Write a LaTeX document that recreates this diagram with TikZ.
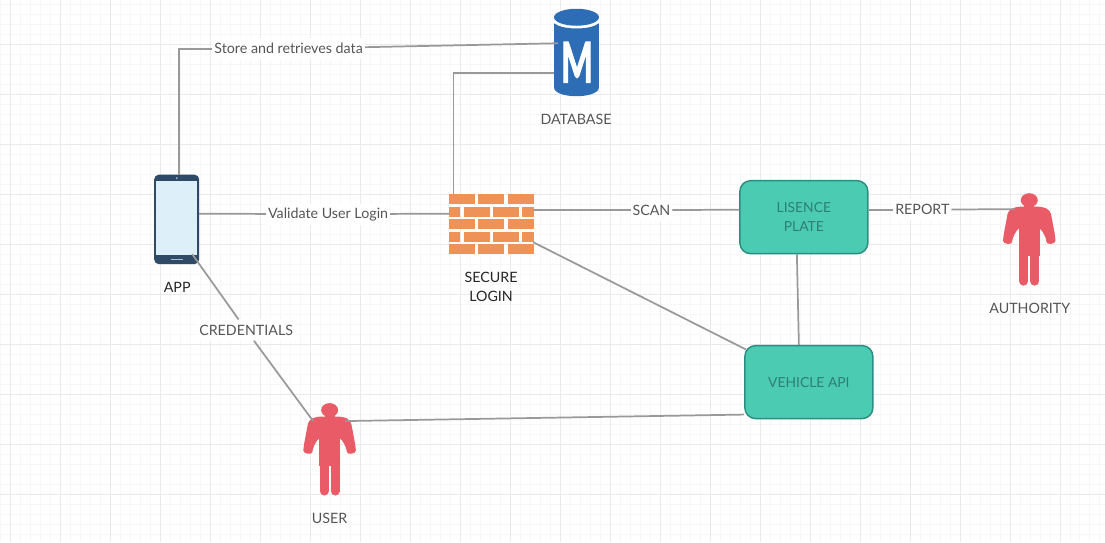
\documentclass[tikz,border=0pt]{standalone}
\usepackage{fontspec}
\setmainfont{Lato}
\usepackage{tikz}
\usetikzlibrary{
  arrows.meta,
  positioning,
  calc
}
\definecolor{linegray}{HTML}{999999}
\definecolor{labelgray}{HTML}{555555}
\definecolor{gridmajor}{HTML}{EAEAEA}
\definecolor{gridminor}{HTML}{F7F7F7}
\definecolor{tealfill}{HTML}{4BCBB2}
\definecolor{tealedge}{HTML}{2A8F82}
\definecolor{tealtext}{HTML}{2E7F76}
\definecolor{personred}{HTML}{E95B66}
\definecolor{brickorange}{HTML}{EE9258}
\definecolor{dbblue}{HTML}{2D6DB5}
\definecolor{phonedark}{HTML}{2E4A66}
\definecolor{phonescreen}{HTML}{DDF0FA}

\begin{document}
\begin{tikzpicture}[
  x=0.75pt, y=-0.75pt,
  font=\fontsize{10.7}{14.25}\selectfont,
  conn/.style={linegray, line width=1.3pt},
  lbl/.style={fill=white, text=labelgray, outer sep=0pt,
    minimum height=16pt, inner ysep=0pt, inner xsep=1.5pt},
  caption/.style={text=labelgray, align=center, inner sep=0pt},
  capdark/.style={text=black!85, align=center, inner sep=0pt},
  tealbox/.style={
    rectangle, rounded corners=8pt, draw=tealedge, fill=tealfill, line width=1.1pt,
    minimum width=96pt, minimum height=54.75pt, align=center, text=tealtext,
    font=\fontsize{10.4}{14.25}\selectfont
  },
  iconbox/.style={rectangle, inner sep=0pt, outer sep=0pt},
  person/.pic={
    \fill[personred] (0,-40) ellipse [x radius=8.5, y radius=7];
    \fill[personred] (-5,-36) rectangle (5,-30);
    \fill[personred] (-10.5,-30) rectangle (10.5,16);
    % shoulders and arms
    \fill[personred, rounded corners=3pt] (-13,-33.5) -- (13,-33.5) -- (21,-30) -- (26,-3.5)
      .. controls (26.5,4) and (17.5,5) .. (17,-2) -- (10.5,-13) -- (-10.5,-13)
      -- (-17,-2) .. controls (-17.5,5) and (-26.5,4) .. (-26,-3.5) -- (-21,-30) -- cycle;
    \draw[personred, line width=6.75pt, line cap=round] (-5.5,10) -- (-5.5,41);
    \draw[personred, line width=6.75pt, line cap=round] (5.5,10) -- (5.5,41);
  },
  phone/.pic={
    \fill[phonedark, rounded corners=3.5pt] (-22.5,-45) rectangle (22.5,44.5);
    \fill[phonescreen] (-20.5,-38.5) rectangle (20.5,35.5);
    \fill[phonescreen!70!phonedark] (0,-41.5) circle (1);
    \draw[phonescreen!70!phonedark, line width=0.5pt] (-6,39.5) -- (6,39.5);
  },
  bricks/.pic={
    % odd rows, three whole bricks
    \foreach \ytop in {-30.5,-5.5,19.5}
      \foreach \xa/\xb in {-42.5/-16.5, -13.5/12.5, 16.5/42.5}
        \fill[brickorange] (\xa,\ytop) rectangle (\xb,\ytop+10);
    % even rows, cut at both ends
    \foreach \ytop in {-18,7}
      \foreach \xa/\xb in {-42.5/-31.5, -27.5/-1.5, 1.5/27.5, 30.5/42.5}
        \fill[brickorange] (\xa,\ytop) rectangle (\xb,\ytop+10.5);
  },
  cylinder/.pic={
    \fill[dbblue] (0,-35.5) ellipse [x radius=22.5, y radius=8.5];
    \fill[dbblue] (-22.5,-29.5) .. controls (-14,-22.5) and (14,-22.5) .. (22.5,-29.5)
      -- (22.5,34.5) .. controls (22.5,46.5) and (-22.5,46.5) .. (-22.5,34.5) -- cycle;
  },
]

% Grid paper
\fill[white] (0,0) rectangle (1105,542);
\foreach \gx in {0,10,...,1100}
  \draw[gridminor, line width=0.4pt] (\gx,0) -- (\gx,542);
\foreach \gy in {4,14,...,534}
  \draw[gridminor, line width=0.4pt] (0,\gy) -- (1105,\gy);
\foreach \gx in {10,60,...,1100}
  \draw[gridmajor, line width=0.4pt] (\gx,0) -- (\gx,542);
\foreach \gy in {44,94,...,534}
  \draw[gridmajor, line width=0.4pt] (0,\gy) -- (1105,\gy);
\useasboundingbox (0,0) rectangle (1105,542);

% Icons
\node[iconbox, minimum width=33.75pt, minimum height=67.5pt] (app) at (176.5,219.5) {};
\pic at (app) {phone};
\node[capdark] (applabel) at (177,287) {APP};

\node[iconbox, minimum width=63.75pt, minimum height=45.75pt] (secure) at (491.5,224.5) {};
\pic at (secure) {bricks};
\node[capdark] (securelabel) at (491,286.5) {SECURE\\LOGIN};

\node[iconbox, minimum width=33.75pt, minimum height=65.25pt] (database) at (576.5,52.5) {};
\pic at (database) {cylinder};
\node[inner sep=0pt, text=white] (dbletter) at (577,62)
  {\scalebox{0.6}[1]{\fontsize{42}{42}\selectfont\bfseries\addfontfeature{FakeBold=2.5}M}};
\node[caption] (databaselabel) at (576,119) {DATABASE};

\node[iconbox, minimum width=38.25pt, minimum height=69pt] (user) at (329.5,450) {};
\pic at (user) {person};
\node[caption] (userlabel) at (329.5,518) {USER};

\node[iconbox, minimum width=38.25pt, minimum height=69pt] (authority) at (1029.5,240) {};
\pic at (authority) {person};
\node[caption] (authoritylabel) at (1030,308) {AUTHORITY};

% Boxes
\node[tealbox] (plate) at (804,217) {LISENCE\\PLATE};
\node[tealbox] (vehicle) at (809,382) {VEHICLE API};

% Connector labels
\node[lbl] (store) at (288.5,48.5) {Store and retrieves data};
\node[lbl] (validate) at (328,214) {Validate User Login};
\node[lbl] (scan) at (651.5,210) {SCAN};
\node[lbl] (report) at (922.5,209.5) {REPORT};
\node[lbl] (credentials) at (246,330) {CREDENTIALS};

% Connectors
\draw[conn] ([shift={(2.5,0)}]app.north) |- (store);
\draw[conn] (store) -- ([shift={(4,-9.5)}]database.west);
\draw[conn] ([shift={(-38,0)}]secure.north) |- ([shift={(0,20.5)}]database.west);
\draw[conn] ([shift={(0,-6)}]app.east) -- (validate);
\draw[conn] (validate) -- ([shift={(0,-11)}]secure.west);
\draw[conn] ([shift={(0,-14.5)}]secure.east) -- (scan);
\draw[conn] (scan) -- ([shift={(0,-7.5)}]plate.west);
\draw[conn] ([shift={(0,-7.5)}]plate.east) -- (report);
\draw[conn] (report) -- ([shift={(-14.5,15)}]authority.north);
\draw[conn] ([shift={(-7,0)}]plate.south) -- ([shift={(-10,0)}]vehicle.north);
\draw[conn] ([shift={(-1,17.5)}]secure.east) -- ([shift={(2,-32.5)}]vehicle.west);
\draw[conn] ([shift={(15.5,17)}]user.north) -- ([shift={(0,32.5)}]vehicle.west);
\draw[conn] ([shift={(15.5,-10.5)}]app.south) -- (credentials);
\draw[conn] (credentials) -- ([shift={(-16.5,17)}]user.north);

\end{tikzpicture}
\end{document}
